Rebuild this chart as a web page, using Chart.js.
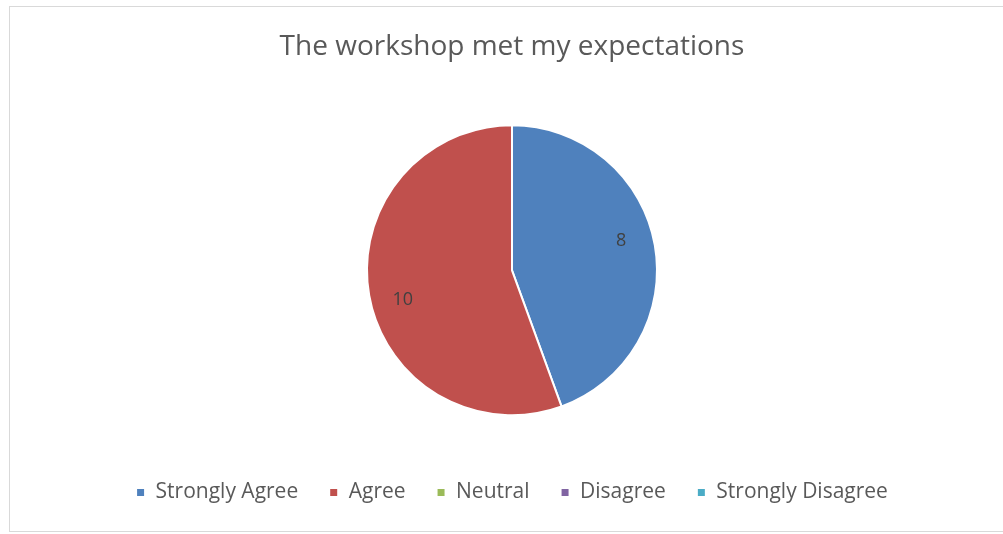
<!DOCTYPE html>
<html lang="en">
<head>
<meta charset="UTF-8">
<title>The workshop met my expectations</title>
<script src="https://cdn.jsdelivr.net/npm/chart.js@4.4.1/dist/chart.umd.min.js"></script>
<style>
    html, body { margin: 0; padding: 0; background: #fff; }
    #frame {
        position: absolute;
        left: 9px; top: 6px;
        width: 1010px; height: 524px;
        border: 1px solid #d9d9d9;
    }
    #wrap {
        position: absolute;
        left: 0; top: 0;
        width: 1003px; height: 534px;
    }
</style>
</head>
<body>
<div id="frame"></div>
<div id="wrap">
    <canvas id="pieChart"></canvas>
</div>

<script>
// Survey answers
var answers = ['Strongly Agree', 'Agree', 'Neutral', 'Disagree', 'Strongly Disagree'];
var counts = [8, 10, 0, 0, 0];
var sliceColors = ['#4F81BD', '#C0504D', '#9BBB59', '#8064A2', '#4BACC6'];

var fontName = '"Open Sans", Lato, sans-serif';

// Writes the count inside each non-empty slice
var sliceValues = {
    id: 'sliceValues',
    afterDatasetsDraw: function(chart) {
        var ctx = chart.ctx;
        var meta = chart.getDatasetMeta(0);
        ctx.save();
        ctx.font = '18px ' + fontName;
        ctx.fillStyle = '#404040';
        ctx.textAlign = 'center';
        ctx.textBaseline = 'middle';
        meta.data.forEach(function(arc, i) {
            var v = chart.data.datasets[0].data[i];
            if (!v) return;
            var p = arc.getProps(['x', 'y', 'startAngle', 'endAngle', 'outerRadius'], true);
            var mid = (p.startAngle + p.endAngle) / 2 - 0.09;
            var r = p.outerRadius * 0.78;
            ctx.fillText(String(v), p.x + Math.cos(mid) * r, p.y + Math.sin(mid) * r);
        });
        ctx.restore();
    }
};

var ctx = document.getElementById('pieChart').getContext('2d');
var pieChart = new Chart(ctx, {
    type: 'pie',
    data: {
        labels: answers,
        datasets: [{
            data: counts,
            backgroundColor: sliceColors,
            borderColor: '#ffffff',
            borderWidth: 2,
            radius: 145
        }]
    },
    options: {
        responsive: true,
        maintainAspectRatio: false,
        animation: false,
        layout: { padding: { left: 21, bottom: 21 } },
        plugins: {
            title: {
                display: true,
                text: 'The workshop met my expectations',
                color: '#595959',
                font: { family: fontName, size: 28, weight: 'normal' },
                padding: { top: 30, bottom: 26 }
            },
            legend: {
                position: 'bottom',
                labels: {
                    color: '#595959',
                    font: { family: fontName, size: 21 },
                    boxWidth: 9,
                    boxHeight: 9,
                    padding: 31
                }
            },
            tooltip: { enabled: false }
        }
    },
    plugins: [sliceValues]
});
</script>
</body>
</html>
